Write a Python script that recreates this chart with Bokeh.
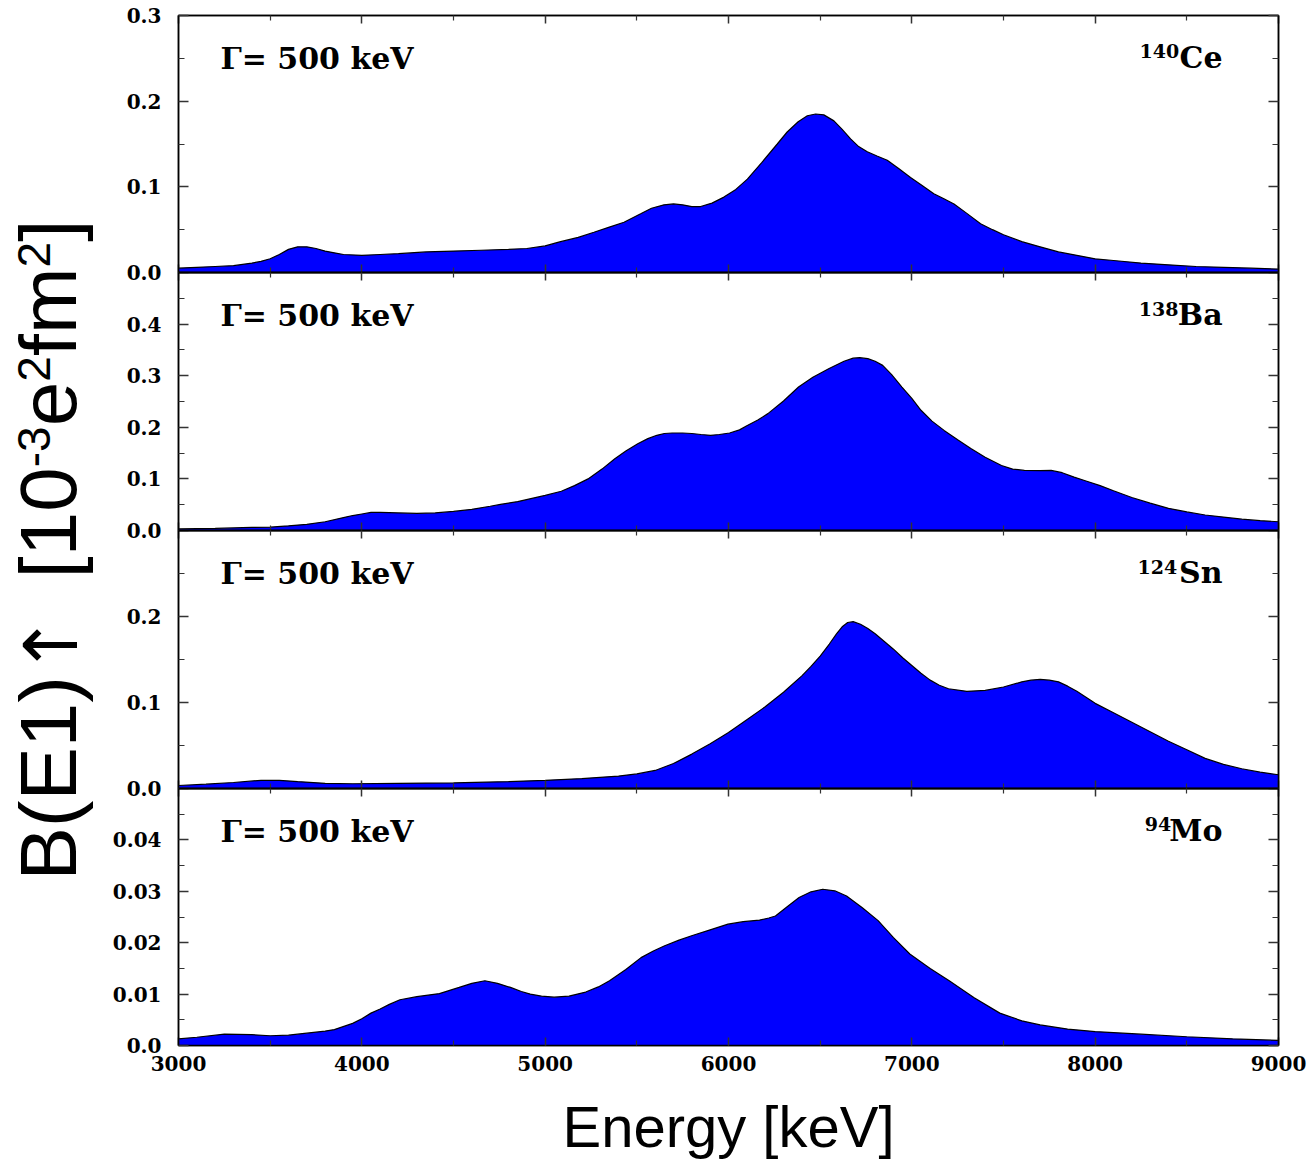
import math

from bokeh.plotting import figure
from bokeh.layouts import row, column
from bokeh.models import (Range1d, FixedTicker, PrintfTickFormatter,
                          CustomJSTickFormatter, LinearAxis, Label,
                          ColumnDataSource)
from bokeh.embed import file_html
from bokeh.resources import INLINE

# ---------------------------------------------------------------------------
# E1 strength distributions folded with a Lorentzian of width 500 keV
# energy in keV, B(E1) in 10^-3 e^2 fm^2
# ---------------------------------------------------------------------------
ce140_energy = [3000, 3100, 3200, 3300, 3400, 3450, 3500, 3550, 3600, 3650,
                3700, 3750, 3800, 3850, 3900, 4000, 4100, 4200, 4350, 4500,
                4650, 4800, 4900, 5000, 5084, 5180, 5266, 5350, 5430, 5521,
                5580, 5648, 5700, 5750, 5800, 5848, 5910, 5975, 6040, 6103,
                6180, 6266, 6320, 6380, 6430, 6475, 6520, 6575, 6620, 6666,
                6710, 6757, 6810, 6866, 6930, 6993, 7060, 7120, 7175, 7230,
                7300, 7375, 7440, 7500, 7600, 7700, 7800, 7900, 8000, 8100,
                8250, 8400, 8550, 8700, 8850, 9000]
ce140_strength = [0.005, 0.006, 0.007, 0.008, 0.011, 0.013, 0.016, 0.021,
                  0.027, 0.030, 0.030, 0.028, 0.025, 0.023, 0.021, 0.020,
                  0.021, 0.022, 0.024, 0.025, 0.026, 0.027, 0.028, 0.031,
                  0.036, 0.041, 0.047, 0.053, 0.0587, 0.0685, 0.075, 0.079,
                  0.080, 0.079, 0.077, 0.077, 0.081, 0.088, 0.097, 0.109,
                  0.128, 0.150, 0.164, 0.176, 0.183, 0.185, 0.184, 0.177,
                  0.167, 0.156, 0.147, 0.141, 0.136, 0.131, 0.121, 0.111,
                  0.101, 0.092, 0.086, 0.080, 0.069, 0.057, 0.050, 0.044,
                  0.036, 0.030, 0.024, 0.020, 0.016, 0.014, 0.011, 0.009,
                  0.007, 0.006, 0.005, 0.004]

ba138_energy = [3000, 3200, 3400, 3500, 3600, 3700, 3800, 3900, 3950, 4000,
                4050, 4100, 4200, 4300, 4400, 4500, 4600, 4700, 4756, 4850,
                5000, 5088, 5160, 5234, 5310, 5380, 5440, 5505, 5560, 5609,
                5650, 5693, 5750, 5800, 5850, 5902, 5950, 6006, 6060, 6100,
                6160, 6215, 6300, 6382, 6460, 6549, 6630, 6680, 6716, 6760,
                6800, 6841, 6890, 6946, 7000, 7050, 7110, 7176, 7250, 7322,
                7400, 7489, 7550, 7614, 7700, 7760, 7820, 7885, 7950, 8027,
                8100, 8200, 8300, 8400, 8500, 8600, 8700, 8800, 8900, 9000]
ba138_strength = [0.003, 0.004, 0.006, 0.0065, 0.009, 0.012, 0.017, 0.025,
                  0.029, 0.032, 0.035, 0.035, 0.034, 0.033, 0.034, 0.037,
                  0.041, 0.047, 0.0505, 0.056, 0.068, 0.076, 0.087, 0.100,
                  0.119, 0.139, 0.154, 0.168, 0.178, 0.1845, 0.188, 0.189,
                  0.189, 0.188, 0.186, 0.1845, 0.186, 0.189, 0.195, 0.203,
                  0.214, 0.2265, 0.251, 0.278, 0.297, 0.314, 0.328, 0.334,
                  0.335, 0.333, 0.328, 0.320, 0.302, 0.278, 0.256, 0.233,
                  0.212, 0.194, 0.176, 0.159, 0.142, 0.126, 0.119, 0.1165,
                  0.116, 0.1165, 0.112, 0.1035, 0.096, 0.087, 0.077, 0.064,
                  0.053, 0.043, 0.036, 0.030, 0.026, 0.022, 0.019, 0.017]

sn124_energy = [3000, 3150, 3300, 3450, 3550, 3650, 3800, 3950, 4200, 4500,
                4800, 5000, 5200, 5300, 5400, 5500, 5600, 5700, 5800, 5900,
                6000, 6100, 6200, 6300, 6400, 6450, 6500, 6550, 6590, 6620,
                6650, 6680, 6720, 6760, 6800, 6850, 6900, 6950, 7000, 7050,
                7100, 7150, 7200, 7300, 7400, 7500, 7600, 7650, 7700, 7750,
                7800, 7850, 7900, 7950, 8000, 8100, 8200, 8300, 8400, 8500,
                8600, 8700, 8800, 8900, 9000]
sn124_strength = [0.0035, 0.005, 0.007, 0.0095, 0.0095, 0.008, 0.006, 0.0055,
                  0.006, 0.0065, 0.008, 0.0095, 0.0115, 0.013, 0.0145, 0.017,
                  0.021, 0.029, 0.040, 0.052, 0.065, 0.080, 0.095, 0.112,
                  0.131, 0.142, 0.154, 0.168, 0.180, 0.188, 0.193, 0.194,
                  0.191, 0.186, 0.180, 0.171, 0.162, 0.152, 0.143, 0.134,
                  0.126, 0.120, 0.116, 0.113, 0.114, 0.118, 0.124, 0.126,
                  0.127, 0.126, 0.124, 0.119, 0.113, 0.106, 0.099, 0.088,
                  0.077, 0.066, 0.055, 0.045, 0.035, 0.028, 0.023, 0.019,
                  0.016]

mo94_energy = [3000, 3100, 3250, 3400, 3500, 3600, 3700, 3800, 3850, 3950,
               4000, 4050, 4100, 4150, 4208, 4300, 4423, 4531, 4600, 4671,
               4740, 4811, 4870, 4919, 4980, 5049, 5130, 5221, 5290, 5351,
               5440, 5523, 5590, 5652, 5730, 5803, 5900, 5997, 6080, 6169,
               6220, 6256, 6320, 6385, 6450, 6514, 6580, 6644, 6730, 6816,
               6900, 6989, 7100, 7204, 7340, 7480, 7600, 7700, 7850, 8000,
               8250, 8500, 8750, 9000]
mo94_strength = [0.0013, 0.0016, 0.0022, 0.0021, 0.0019, 0.0020, 0.0024,
                 0.0028, 0.0031, 0.0043, 0.0052, 0.0063, 0.0071, 0.0080,
                 0.0089, 0.0095, 0.0101, 0.0113, 0.0121, 0.0126, 0.0121,
                 0.0113, 0.0105, 0.0100, 0.0096, 0.0094, 0.0096, 0.0104,
                 0.0114, 0.0126, 0.0148, 0.0171, 0.0184, 0.0194, 0.0205,
                 0.0214, 0.0225, 0.0236, 0.0241, 0.0244, 0.0248, 0.0252,
                 0.0270, 0.0288, 0.0299, 0.0304, 0.0301, 0.0291, 0.0268,
                 0.0243, 0.0210, 0.0178, 0.0150, 0.0126, 0.0093, 0.0063,
                 0.0048, 0.0040, 0.0032, 0.0027, 0.0022, 0.0017, 0.0013,
                 0.0010]

mass_numbers = ["140", "138", "124", "94"]
elements = ["Ce", "Ba", "Sn", "Mo"]
width_label = "\u0393= 500 keV"

y_maxima = [0.3, 0.5, 0.3, 0.05]
y_major_ticks = [[0.0, 0.1, 0.2, 0.3],
                 [0.0, 0.1, 0.2, 0.3, 0.4],
                 [0.0, 0.1, 0.2],
                 [0.0, 0.01, 0.02, 0.03, 0.04]]
y_minor_ticks = [[0.05, 0.15, 0.25],
                 [0.05, 0.15, 0.25, 0.35, 0.45],
                 [0.05, 0.15, 0.25],
                 [0.005, 0.015, 0.025, 0.035, 0.045]]
x_major_ticks = [3000, 4000, 5000, 6000, 7000, 8000, 9000]
x_minor_ticks = [3500, 4500, 5500, 6500, 7500, 8500]

x_title = "Energy [keV]"

# ---------------------------------------------------------------------------
SERIF = "DejaVu Serif"
SANS = "Liberation Sans"
TICK_COLOR = "#333333"
FILL = "#0000ff"

LABEL_W = 100
PAGE_H = 1171
FRAME_W = 1100
BORDER_L = 78
BORDER_R = 33
OVERLAP = 12          # extra canvas above/below a frame so the "0.0" labels
                      # centred on a shared edge are not clipped
frame_heights = [257, 258, 258, 257]
top_borders = [15, OVERLAP, OVERLAP, OVERLAP]
bottom_borders = [OVERLAP, OVERLAP, OVERLAP, 126]

# text anchors sit a little above the drawn baseline; lift them back
LIFT = 0.37

# advance widths (em) of the bold serif face, used to set the mass number
# just left of the element symbol
SERIF_BOLD_EM = {"C": 0.734, "e": 0.678, "B": 0.762, "a": 0.675, "S": 0.720,
                 "n": 0.760, "M": 0.995, "o": 0.687}

blank = CustomJSTickFormatter(code="return ''")


def style_axis(ax, major_in, minor_in):
    ax.axis_line_color = "black"
    ax.axis_line_width = 1.5
    ax.major_tick_in = major_in
    ax.major_tick_out = 0
    ax.minor_tick_in = minor_in
    ax.minor_tick_out = 0
    ax.major_tick_line_color = TICK_COLOR
    ax.minor_tick_line_color = TICK_COLOR
    ax.major_tick_line_width = 1.5
    ax.minor_tick_line_width = 1.2


def hide_labels(ax):
    ax.formatter = blank
    ax.major_label_text_font_size = "0px"
    ax.major_label_standoff = 0


def make_panel(i, energy, strength):
    ymax = y_maxima[i]
    last = i == 3
    p = figure(width=BORDER_L + FRAME_W + BORDER_R,
               height=top_borders[i] + frame_heights[i] + bottom_borders[i],
               x_range=Range1d(3000, 9000), y_range=Range1d(0, ymax),
               x_axis_type=None, y_axis_type=None,
               min_border_left=BORDER_L, min_border_right=BORDER_R,
               min_border_top=top_borders[i],
               min_border_bottom=bottom_borders[i],
               output_backend="svg", toolbar_location=None)
    if i > 0:
        p.margin = (-2 * OVERLAP, 0, 0, 0)
    p.outline_line_color = "black"
    p.outline_line_width = 1.5
    p.background_fill_color = None
    p.border_fill_color = None

    y_ticker = FixedTicker(ticks=y_major_ticks[i], minor_ticks=y_minor_ticks[i])
    x_ticker = FixedTicker(ticks=x_major_ticks, minor_ticks=x_minor_ticks)

    if last:
        y_fmt = PrintfTickFormatter(format="%.2f")
    else:
        y_fmt = PrintfTickFormatter(format="%.1f")

    left = LinearAxis(ticker=y_ticker, formatter=y_fmt)
    style_axis(left, 10, 6)
    left.major_label_text_font = SERIF
    left.major_label_text_font_style = "bold"
    left.major_label_text_font_size = "20px"
    left.major_label_text_color = "black"
    left.major_label_standoff = 17
    if last:
        left.major_label_overrides = {0: "0.0"}
    p.add_layout(left, "left")

    right = LinearAxis(ticker=y_ticker)
    style_axis(right, 10, 6)
    hide_labels(right)
    p.add_layout(right, "right")

    top = LinearAxis(ticker=x_ticker)
    style_axis(top, 8, 5)
    hide_labels(top)
    p.add_layout(top, "above")

    bottom = LinearAxis(ticker=x_ticker)
    style_axis(bottom, 8, 5)
    if last:
        bottom.major_label_text_font = SERIF
        bottom.major_label_text_font_style = "bold"
        bottom.major_label_text_font_size = "20px"
        bottom.major_label_text_color = "black"
        bottom.major_label_standoff = 10
        bottom.axis_label = x_title
        bottom.axis_label_text_font = SANS
        bottom.axis_label_text_font_style = "normal"
        bottom.axis_label_text_font_size = "58px"
        bottom.axis_label_text_color = "black"
        bottom.axis_label_standoff = 20
    else:
        hide_labels(bottom)
    p.add_layout(bottom, "below")

    src = ColumnDataSource(dict(e=energy, b=strength))
    p.varea(x="e", y1=0, y2="b", source=src, fill_color=FILL)
    p.line(x="e", y="b", source=src, line_color="black", line_width=1.2)

    # resolution tag, upper left
    p.add_layout(Label(x=3229, y=0.79 * ymax, text=width_label,
                       y_offset=LIFT * 30,
                       text_font=SERIF, text_font_style="bold",
                       text_font_size="30px", text_color="black",
                       text_baseline="alphabetic"))

    # nucleus tag, upper right: element symbol with raised mass number
    sym = elements[i]
    sym_w = 30 * sum(SERIF_BOLD_EM[c] for c in sym)
    p.add_layout(Label(x=8695, y=0.794 * ymax, text=sym,
                       y_offset=LIFT * 30,
                       text_font=SERIF, text_font_style="bold",
                       text_font_size="30px", text_color="black",
                       text_align="right", text_baseline="alphabetic"))
    p.add_layout(Label(x=8695, y=0.794 * ymax, text=mass_numbers[i],
                       x_offset=-sym_w - 1, y_offset=10 + LIFT * 19,
                       text_font=SERIF, text_font_style="bold",
                       text_font_size="19px", text_color="black",
                       text_align="right", text_baseline="alphabetic"))
    return p


series = [(ce140_energy, ce140_strength), (ba138_energy, ba138_strength),
          (sn124_energy, sn124_strength), (mo94_energy, mo94_strength)]
panels = [make_panel(i, e, b) for i, (e, b) in enumerate(series)]

# ---------------------------------------------------------------------------
# common vertical title, built piece by piece so the exponents sit raised
# ---------------------------------------------------------------------------
ylab = figure(width=LABEL_W, height=PAGE_H, x_range=Range1d(0, LABEL_W),
              y_range=Range1d(0, PAGE_H), x_axis_type=None, y_axis_type=None,
              min_border=0, output_backend="svg", toolbar_location=None)
ylab.outline_line_color = None
ylab.grid.visible = False

MAIN = 80
SUP = 46
ARROW = 74
BASE_X = 78        # baseline of the full-size glyphs
SUP_BASE_X = 51    # baseline of the exponents
SANS_EM = {"B": 0.667, "(": 0.333, "E": 0.667, "1": 0.556, ")": 0.333,
           " ": 0.278, "[": 0.278, "0": 0.556, "-": 0.333,
           "3": 0.556, "e": 0.556, "2": 0.556, "f": 0.278, "m": 0.833,
           "]": 0.278}
# (text, font, size, baseline x, advance in em)
title_pieces = [
    ("B(E1)", SANS, MAIN, BASE_X, None),
    ("\u2191", "DejaVu Sans", ARROW, BASE_X, 0.80),
    ("  ", SANS, MAIN, BASE_X, 0.48),
    ("[10", SANS, MAIN, BASE_X, None),
    ("-3", SANS, SUP, SUP_BASE_X, None),
    ("e", SANS, MAIN, BASE_X, None),
    ("2", SANS, SUP, SUP_BASE_X, None),
    ("fm", SANS, MAIN, BASE_X, None),
    ("2", SANS, SUP, SUP_BASE_X, None),
    ("]", SANS, MAIN, BASE_X, None),
]

pos = PAGE_H - 880
for txt, font, size, base_x, adv in title_pieces:
    if txt.strip():
        ylab.add_layout(Label(x=base_x - LIFT * size, y=pos,
                              text=txt, angle=math.pi / 2,
                              text_font=font, text_font_size=f"{size}px",
                              text_color="black", text_align="left",
                              text_baseline="alphabetic"))
    if adv is None:
        adv = sum(SANS_EM[c] for c in txt)
    pos += size * adv

layout = row(ylab, column(*panels, spacing=0), spacing=0)

open("out.html", "w").write(file_html(layout, INLINE, title="B(E1) strength"))
